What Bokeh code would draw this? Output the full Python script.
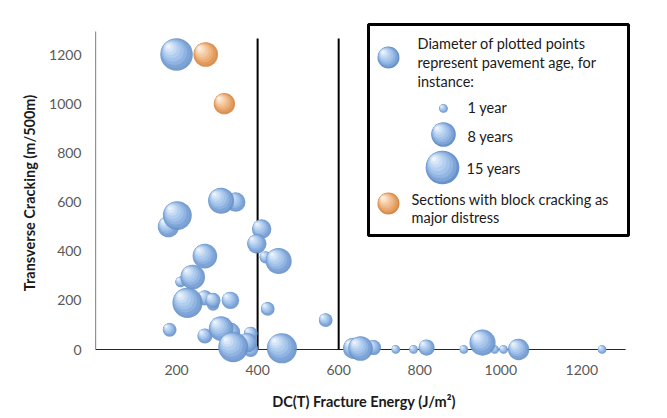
from bokeh.plotting import figure
from bokeh.models import Range1d, FixedTicker, ColumnDataSource
from bokeh.core.properties import value
from bokeh.embed import file_html
from bokeh.resources import INLINE

# ---- data: DC(T) fracture energy vs transverse cracking, bubble = pavement age
fracture_energy = [200, 310, 346, 202, 180, 410, 398, 452, 420, 270,
                   240, 210, 227, 270, 290, 290, 333, 183, 270, 310,
                   333, 340, 375, 383, 383, 460, 425, 568, 637, 654,
                   686, 741, 785, 817, 909, 955, 985, 1007, 1044, 1250]
transverse_cracking = [1200, 605, 600, 545, 500, 490, 430, 360, 375, 380,
                       295, 275, 190, 210, 200, 183, 200, 80, 55, 85,
                       70, 10, 28, 65, 0, 5, 165, 120, 5, 4,
                       8, 0, 0, 8, 0, 28, 0, 0, 0, 0]
pavement_age = [14, 9, 5, 11, 6, 5, 5, 9, 2, 8,
                8, 1.5, 12, 3, 3, 2, 4, 2.5, 3, 8,
                5, 12, 5, 2.5, 3, 12, 2.5, 2.5, 6, 8,
                3, 1, 1, 3.5, 1, 9, 1, 1, 6, 1]

# sections whose major distress is block cracking
block_energy = [272, 318]
block_cracking = [1200, 1000]
block_age = [8, 6]

thresholds = [400, 600]
x_ticks = [200, 400, 600, 800, 1000, 1200]
y_ticks = [0, 200, 400, 600, 800, 1000, 1200]
legend_ages = [1, 8, 15]

# ---- layout
W, H = 667, 418
LEFT, RIGHT, TOP, BOTTOM = 95, 35, 20, 53
FW, FH = W - LEFT - RIGHT, H - TOP - BOTTOM
X0, X1 = 0, 1325
Y0 = -65
KX = FW / (X1 - X0)          # px per data unit
KY = 0.2458
Y1 = Y0 + FH / KY
BUBBLE_K = 8.7               # diameter (px) = k * sqrt(age)

FONT = "Lato"

p = figure(width=W, height=H, output_backend="svg", toolbar_location=None,
           x_range=Range1d(X0, X1), y_range=Range1d(Y0, Y1),
           min_border_left=LEFT, min_border_right=RIGHT,
           min_border_top=TOP, min_border_bottom=BOTTOM)
p.extra_x_ranges = {"px": Range1d(0, FW)}
p.extra_y_ranges = {"py": Range1d(0, FH)}
p.background_fill_color = "white"
p.border_fill_color = "white"
p.outline_line_color = None
p.xgrid.visible = False
p.ygrid.visible = False

for ax in (p.xaxis[0], p.yaxis[0]):
    ax.axis_line_color = None
    ax.major_tick_line_color = None
    ax.minor_tick_line_color = None
    ax.major_tick_out = 0
    ax.major_label_text_font = FONT
    ax.major_label_text_font_size = "14px"
    ax.major_label_text_color = "#595959"
    ax.axis_label_text_font = FONT
    ax.axis_label_text_font_size = "14.5px"
    ax.axis_label_text_font_style = "bold"
    ax.axis_label_text_color = "#1a1a1a"

p.xaxis.ticker = FixedTicker(ticks=x_ticks)
p.yaxis.ticker = FixedTicker(ticks=y_ticks)
p.xaxis.major_label_standoff = -1
p.yaxis.major_label_standoff = 14
p.xaxis.axis_label = "DC(T) Fracture Energy (J/m\u00b2)"
p.yaxis.axis_label = "Transverse Cracking (m/500m)"
p.xaxis.axis_label_standoff = 15
p.yaxis.axis_label_standoff = 8

# axis lines meeting at the origin
p.segment(x0=[0, 0], y0=[0, 0], x1=[1308, 0], y1=[0, 1294],
          line_color="#262626", line_width=1.2)
# threshold lines
p.segment(x0=thresholds, y0=[0] * len(thresholds), x1=thresholds,
          y1=[1265] * len(thresholds), line_color="black", line_width=2)

BLUE = ["#6892CA", "#7EA5D8", "#92B5E2", "#A3C3EA", "#B4CFEF",
        "#C6DBF4", "#D9E7F8", "#EDF4FC"]
ORANGE = ["#D68A4A", "#E29C5F", "#EAAB73", "#F0B988", "#F4C79E",
          "#F7D5B5", "#FAE2CD", "#FDF0E5"]
LAYERS = [(1.00, 0.00), (0.90, 0.03), (0.78, 0.07), (0.66, 0.11),
          (0.53, 0.15), (0.40, 0.19), (0.27, 0.22), (0.14, 0.25)]


def sphere_source(xs, ys, diams, palette, kx, ky):
    """Stacked circles per bubble give a shaded, sphere-like look."""
    d = dict(x=[], y=[], size=[], color=[])
    for x, y, dm in zip(xs, ys, diams):
        for (scale, off), col in zip(LAYERS, palette):
            d["x"].append(x - off * dm / kx)
            d["y"].append(y + off * dm / ky)
            d["size"].append(scale * dm)
            d["color"].append(col)
    return ColumnDataSource(d)


def diam(ages):
    return [BUBBLE_K * a ** 0.5 for a in ages]


# draw larger bubbles last
order = sorted(range(len(pavement_age)), key=lambda i: pavement_age[i])
bx = [fracture_energy[i] for i in order]
by = [transverse_cracking[i] for i in order]
bd = diam([pavement_age[i] for i in order])
p.scatter("x", "y", size="size", fill_color="color", line_color=None,
          fill_alpha=0.9, source=sphere_source(bx, by, bd, BLUE, KX, KY))
p.scatter("x", "y", size="size", fill_color="color", line_color=None,
          fill_alpha=0.95,
          source=sphere_source(block_energy, block_cracking, diam(block_age),
                               ORANGE, KX, KY))

# ---- legend box, in frame pixel coordinates
lg = dict(x_range_name="px", y_range_name="py")
p.quad(left=[273], right=[533], bottom=[130], top=[341], fill_color="white",
       line_color="black", line_width=3, **lg)

p.scatter("x", "y", size="size", fill_color="color", line_color=None,
          source=sphere_source([293], [308], [22], BLUE, 1, 1), **lg)
p.scatter("x", "y", size="size", fill_color="color", line_color=None,
          source=sphere_source([348, 348, 347], [257, 231, 198],
                               diam(legend_ages), BLUE, 1, 1), **lg)
p.scatter("x", "y", size="size", fill_color="color", line_color=None,
          source=sphere_source([293], [162], [22], ORANGE, 1, 1), **lg)

legend_text = ["Diameter of plotted points", "represent pavement age, for",
               "instance:"] + [f"{a} year" + ("s" if a > 1 else "") for a in legend_ages] + \
              ["Sections with block cracking as", "major distress"]
p.text(x=[322, 322, 322, 372, 372, 371, 316, 316],
       y=[322, 303, 284, 258, 229, 197, 166, 148],
       text=legend_text, text_font=value(FONT), text_font_size="14.5px",
       text_color="#1a1a1a", text_baseline="middle", text_align="left", **lg)

open("out.html", "w").write(file_html(p, INLINE))
